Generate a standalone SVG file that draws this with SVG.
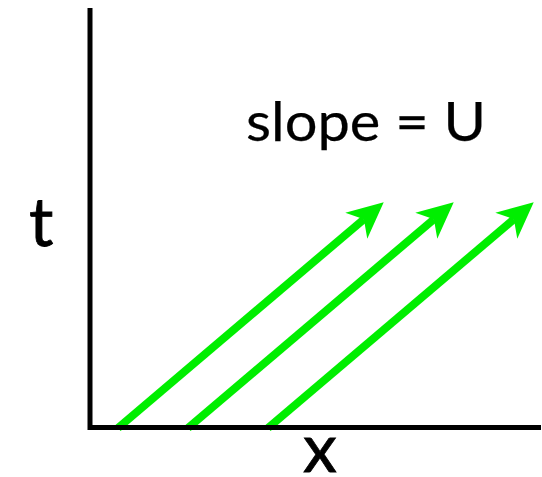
<svg xmlns="http://www.w3.org/2000/svg" width="542" height="477" viewBox="0 0 542 477">
<style>
.axis{stroke:#000;stroke-width:5;fill:none}
.arrow{stroke:#00ee00;stroke-width:8;fill:none}
.lbl{font-family:Lato,"Open Sans","Liberation Sans",sans-serif;fill:#000;stroke:#000}
</style>
<defs>
<marker id="head" markerUnits="userSpaceOnUse" viewBox="0 0 36 34" markerWidth="36" markerHeight="34" refX="10" refY="17" orient="auto" overflow="visible">
<path d="M36,17 L0,0 L10,17 L0,34 Z" fill="#00ee00"/>
</marker>
</defs>
<g id="connectors">
<path class="arrow" d="M118,428 L363.9,219.2" marker-end="url(#head)"/>
<path class="arrow" d="M188,428 L433.9,219.2" marker-end="url(#head)"/>
<path class="arrow" d="M268,428 L513.9,219.2" marker-end="url(#head)"/>
</g>
<g id="axes">
<path class="axis" d="M90,8 L90,427.5 L541,427.5"/>
</g>
<g id="label-slope"><text class="lbl" x="246" y="141" font-size="54" stroke-width="0.25" textLength="240" lengthAdjust="spacingAndGlyphs">slope = U</text></g>
<g id="label-t"><text class="lbl" x="29" y="246" font-size="68" stroke-width="0.8">t</text></g>
<g id="label-x"><text class="lbl" x="303" y="472" font-size="68" stroke-width="0.8">x</text></g>
</svg>
